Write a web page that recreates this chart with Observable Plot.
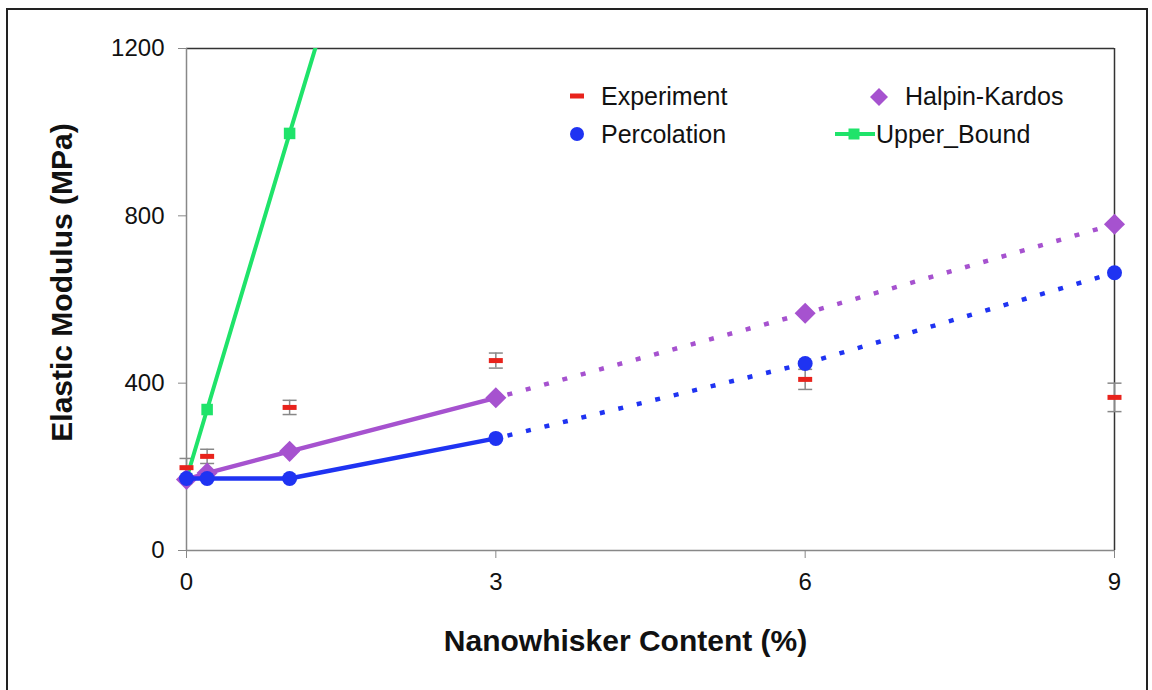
<!DOCTYPE html>
<html>
<head>
<meta charset="utf-8">
<script src="https://cdn.jsdelivr.net/npm/d3@7"></script>
<script src="https://cdn.jsdelivr.net/npm/@observablehq/plot@0.6"></script>
<style>
  body { margin: 0; background: #fff; font-family: "Liberation Sans", Arial, sans-serif; }
  #wrap { position: relative; width: 1152px; height: 690px; overflow: hidden; }
  #border { position: absolute; left: 6px; top: 8px; width: 1138px; height: 700px; border: 2px solid #222; pointer-events: none; }
  #legend { position: absolute; left: 0; top: 0; font-size: 25px; color: #111; }
  .item { position: absolute; display: flex; align-items: center; white-space: nowrap; }
</style>
</head>
<body>
<div id="wrap">
  <div id="chart"></div>
  <div id="border"></div>
  <div id="legend"></div>
</div>
<script>
// ---- data ----
const xContent = [0, 0.2, 1, 3, 6, 9];
const experiment = [198, 225, 342, 454, 409, 366];
const experimentErr = [22, 17, 17, 18, 24, 34];
const percolation = [172, 172, 172, 268, 447, 664];
const halpinKardos = [170, 185, 237, 365, 567, 780];
const upperX = [0, 0.2, 1, 3];
const upperBound = [172, 337, 997, 2630];
const xTicks = [0, 3, 6, 9];
const yTicks = [0, 400, 800, 1200];
const seriesNames = ["Experiment", "Percolation", "Halpin-Kardos", "Upper_Bound"];
const colors = {red: "#e8231c", blue: "#1f33f2", purple: "#a652cf", green: "#1fe36a", err: "#888"};

const exp = xContent.map((x, i) => ({x, y: experiment[i], lo: experiment[i] - experimentErr[i], hi: experiment[i] + experimentErr[i]}));
const perc = xContent.map((x, i) => ({x, y: percolation[i]}));
const halp = xContent.map((x, i) => ({x, y: halpinKardos[i]}));
const upper = upperX.map((x, i) => ({x, y: upperBound[i]}));

const dashSym = {draw(ctx) { ctx.rect(-7, -2.5, 14, 5); }};
const capSym = {draw(ctx) { ctx.moveTo(-7, 0); ctx.lineTo(7, 0); }};

const chart = Plot.plot({
  width: 1152,
  height: 690,
  marginLeft: 186,
  marginRight: 38,
  marginTop: 48,
  marginBottom: 140,
  style: {fontFamily: "'Liberation Sans', Arial, sans-serif", fontSize: "24px", color: "#111", background: "transparent"},
  x: {domain: [0, 9]},
  y: {domain: [0, 1200]},
  marks: [
    Plot.ruleY([1200], {stroke: "#333", strokeWidth: 1.5}),
    Plot.ruleX([9], {stroke: "#333", strokeWidth: 1.5}),
    Plot.ruleX([0], {stroke: "#888", strokeWidth: 1.5}),
    Plot.ruleY([0], {stroke: "#888", strokeWidth: 1.5}),
    Plot.axisX({ticks: xTicks, tickSize: 8, tickPadding: 14, tickFormat: d => String(d), label: null, stroke: "#888", fill: "#111", fontSize: 24}),
    Plot.axisY({ticks: yTicks, tickSize: 8, tickPadding: 14, tickFormat: d => String(d), label: null, stroke: "#888", fill: "#111", fontSize: 24}),
    // error bars
    Plot.ruleX(exp, {x: "x", y1: "lo", y2: "hi", stroke: colors.err, strokeWidth: 1.5}),
    Plot.dot(exp, {x: "x", y: "lo", symbol: capSym, stroke: colors.err, fill: "none", strokeWidth: 1.5}),
    Plot.dot(exp, {x: "x", y: "hi", symbol: capSym, stroke: colors.err, fill: "none", strokeWidth: 1.5}),
    // upper bound
    Plot.line(upper, {x: "x", y: "y", stroke: colors.green, strokeWidth: 4, clip: true}),
    Plot.dot(upper, {x: "x", y: "y", symbol: "square", r: 6.5, fill: colors.green, clip: true}),
    // Halpin-Kardos
    Plot.line(halp.filter(d => d.x <= 3), {x: "x", y: "y", stroke: colors.purple, strokeWidth: 4.5}),
    Plot.line(halp.filter(d => d.x >= 3), {x: "x", y: "y", stroke: colors.purple, strokeWidth: 4.5, strokeLinecap: "butt", strokeDasharray: "5,14", strokeDashoffset: -12}),
    Plot.dot(halp, {x: "x", y: "y", symbol: "diamond2", r: 9.5, fill: colors.purple}),
    // Percolation
    Plot.line(perc.filter(d => d.x <= 3), {x: "x", y: "y", stroke: colors.blue, strokeWidth: 4.5}),
    Plot.line(perc.filter(d => d.x >= 3), {x: "x", y: "y", stroke: colors.blue, strokeWidth: 4.5, strokeLinecap: "butt", strokeDasharray: "5,14", strokeDashoffset: -12}),
    Plot.dot(perc, {x: "x", y: "y", r: 7.5, fill: colors.blue}),
    // Experiment
    Plot.dot(exp, {x: "x", y: "y", symbol: dashSym, fill: colors.red}),
    // axis titles
    Plot.text(["Nanowhisker Content (%)"], {frameAnchor: "bottom", dx: -25, dy: 100, fontSize: 30, fontWeight: "bold", fill: "#111"}),
    Plot.text(["Elastic Modulus (MPa)"], {frameAnchor: "left", textAnchor: "middle", rotate: -90, dx: -124, dy: -17, fontSize: 30, fontWeight: "bold", fill: "#111"})
  ]
});
document.getElementById("chart").appendChild(chart);

// legend (HTML)
const legend = document.getElementById("legend");
const icons = {
  "Experiment": `<svg width="24" height="24"><rect x="5" y="9.5" width="14" height="5" fill="${colors.red}"/></svg>`,
  "Percolation": `<svg width="24" height="24"><circle cx="12" cy="12" r="7" fill="${colors.blue}"/></svg>`,
  "Halpin-Kardos": `<svg width="26" height="26"><path d="M13 4 L22 13 L13 22 L4 13 Z" fill="${colors.purple}"/></svg>`,
  "Upper_Bound": `<svg width="42" height="24"><line x1="1" y1="12" x2="41" y2="12" stroke="${colors.green}" stroke-width="4"/><rect x="14.5" y="6.5" width="11" height="11" fill="${colors.green}"/></svg>`
};
const pos = {
  "Experiment": [565, 96, 601],
  "Percolation": [565, 134, 601],
  "Halpin-Kardos": [866, 96, 905],
  "Upper_Bound": [834, 134, 876]
};
for (const name of seriesNames) {
  const [ix, cy, tx] = pos[name];
  const icon = document.createElement("div");
  icon.className = "item";
  icon.style.left = ix + "px";
  icon.style.top = (cy - 12) + "px";
  icon.innerHTML = icons[name];
  legend.appendChild(icon);
  const label = document.createElement("div");
  label.className = "item";
  label.style.left = tx + "px";
  label.style.top = (cy - 15) + "px";
  label.style.lineHeight = "30px";
  label.textContent = name;
  legend.appendChild(label);
}
</script>
</body>
</html>
